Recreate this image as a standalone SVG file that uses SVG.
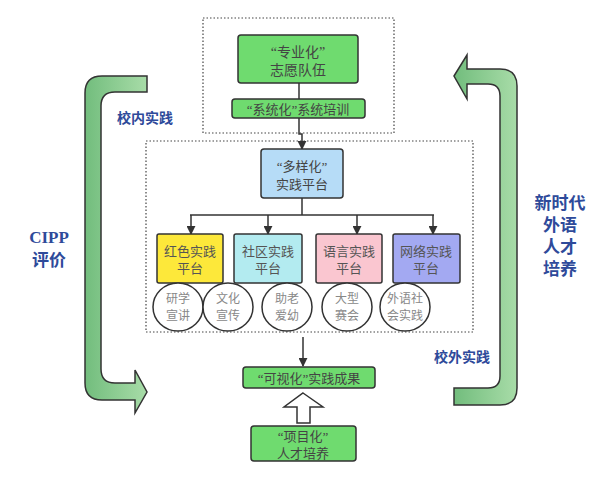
<svg xmlns="http://www.w3.org/2000/svg" width="610" height="481" viewBox="0 0 610 481">
<defs>
<linearGradient id="g" x1="0" y1="0" x2="1" y2="0">
<stop offset="0" stop-color="#72bd7d"/>
<stop offset="1" stop-color="#a8dca8"/>
</linearGradient>
<marker id="ah" viewBox="0 0 10 10" refX="9" refY="5" markerWidth="9" markerHeight="9" markerUnits="userSpaceOnUse" orient="auto">
<path d="M0,0 L10,5 L0,10 Z" fill="#333"/>
</marker>
<style>
text{font-family:"Liberation Serif","Noto Sans CJK SC",serif;text-anchor:middle;dominant-baseline:central}
.n{stroke:#333;stroke-width:1.5}
.t{fill:#444;font-size:13px}
.t1{fill:#444;font-size:14px}
.pt{fill:#555;font-size:13px}
.ct{fill:#888;font-size:12px}
.lb{fill:#2e4a9a;font-size:14px;font-weight:bold}
.big{fill:#2e4a9a;font-size:17px;font-weight:bold}
.dot{fill:none;stroke:#444;stroke-width:1.2;stroke-dasharray:1.5 2}
.c{fill:none;stroke:#333;stroke-width:1.5}
.ar{fill:url(#g);stroke:#333;stroke-width:1.5}
</style>
</defs>
<rect width="610" height="481" fill="#fff"/>
<g id="frames">
<rect class="dot" x="203" y="18" width="191" height="115"/>
<rect class="dot" x="146" y="141" width="327" height="191"/>
</g>
<g id="loop-left"><path class="ar" d="M147,76 L102,76 Q85,76 85,93 L85,383 Q85,400 102,400 L135,400 L135,413 L147,392 L135,370 L135,383 L115,383 Q101,383 101,369 L101,106 Q101,92 115,92 L147,92 Z"/></g>
<g id="loop-right"><path class="ar" d="M454,76 L467,55 L467,69 L500,69 Q517,69 517,86 L517,388 Q517,405 500,405 L454,405 L454,388 L488,388 Q500,388 500,376 L500,96 Q500,84 488,84 L467,84 L467,99 Z"/></g>
<g id="connectors">
<line class="c" x1="299" y1="83" x2="299" y2="99"/>
<polyline class="c" points="299,118 299,134 302,134 302,149" marker-end="url(#ah)"/>
<line class="c" x1="302" y1="198" x2="302" y2="215"/>
<line class="c" x1="190" y1="215" x2="434" y2="215"/>
<line class="c" x1="191" y1="215" x2="191" y2="234" marker-end="url(#ah)"/>
<line class="c" x1="268" y1="215" x2="268" y2="234" marker-end="url(#ah)"/>
<line class="c" x1="357" y1="215" x2="357" y2="234" marker-end="url(#ah)"/>
<line class="c" x1="433" y1="215" x2="433" y2="234" marker-end="url(#ah)"/>
<line class="c" x1="303" y1="337" x2="303" y2="366" marker-end="url(#ah)"/>
<path d="M303,393 L323,407 L310,407 L310,423 L297,423 L297,407 L284,407 Z" fill="#fff" stroke="#333" stroke-width="1.5"/>
</g>
<g id="n1"><rect class="n" x="238" y="35" width="120" height="48" rx="3" fill="#6fdb6f"/><text class="t1" x="298" y="52">“专业化”</text><text class="t1" x="298" y="70">志愿队伍</text></g>
<g id="n2"><rect class="n" x="232" y="99" width="133" height="19" rx="3" fill="#6fdb6f"/><text class="t" x="298" y="109">“系统化”系统培训</text></g>
<g id="n3"><rect class="n" x="261" y="149" width="82" height="49" rx="3" fill="#b6dcf7"/><text class="t" x="302" y="166">“多样化”</text><text class="t" x="302" y="184">实践平台</text></g>
<g id="p1"><rect class="n" x="157" y="234" width="66" height="49" rx="2" fill="#fde83a"/><text class="pt" x="190" y="251">红色实践</text><text class="pt" x="190" y="268">平台</text></g>
<g id="p2"><rect class="n" x="234" y="234" width="68" height="49" rx="2" fill="#b3ebf0"/><text class="pt" x="268" y="251">社区实践</text><text class="pt" x="268" y="268">平台</text></g>
<g id="p3"><rect class="n" x="316" y="234" width="66" height="49" rx="2" fill="#fac6d0"/><text class="pt" x="349" y="251">语言实践</text><text class="pt" x="349" y="268">平台</text></g>
<g id="p4"><rect class="n" x="393" y="234" width="67" height="49" rx="2" fill="#a3a9f2"/><text class="pt" x="426" y="251">网络实践</text><text class="pt" x="426" y="268">平台</text></g>
<g id="c1"><ellipse class="n" cx="178" cy="307" rx="25" ry="24" fill="#fff"/><text class="ct" x="178" y="299">研学</text><text class="ct" x="178" y="316">宣讲</text></g>
<g id="c2"><ellipse class="n" cx="228" cy="307" rx="25" ry="24" fill="#fff"/><text class="ct" x="228" y="299">文化</text><text class="ct" x="228" y="316">宣传</text></g>
<g id="c3"><ellipse class="n" cx="287" cy="307" rx="25" ry="24" fill="#fff"/><text class="ct" x="287" y="299">助老</text><text class="ct" x="287" y="316">爱幼</text></g>
<g id="c4"><ellipse class="n" cx="347" cy="307" rx="25" ry="24" fill="#fff"/><text class="ct" x="347" y="299">大型</text><text class="ct" x="347" y="316">赛会</text></g>
<g id="c5"><ellipse class="n" cx="405" cy="307" rx="25" ry="24" fill="#fff"/><text class="ct" x="405" y="299">外语社</text><text class="ct" x="405" y="316">会实践</text></g>
<g id="n4"><rect class="n" x="243" y="367" width="132" height="21" rx="3" fill="#6fdb6f"/><text class="t" x="309" y="378">“可视化”实践成果</text></g>
<g id="n5"><rect class="n" x="251" y="426" width="105" height="35" rx="3" fill="#6fdb6f"/><text class="t" x="303" y="436">“项目化”</text><text class="t" x="303" y="453">人才培养</text></g>
<g id="labels">
<text class="lb" x="145" y="118">校内实践</text>
<text class="lb" x="462" y="357">校外实践</text>
<text class="big" x="49" y="237">CIPP</text>
<text class="big" x="49" y="260">评价</text>
<text class="big" x="560" y="203">新时代</text>
<text class="big" x="560" y="225">外语</text>
<text class="big" x="560" y="247">人才</text>
<text class="big" x="560" y="269">培养</text>
</g>
</svg>
